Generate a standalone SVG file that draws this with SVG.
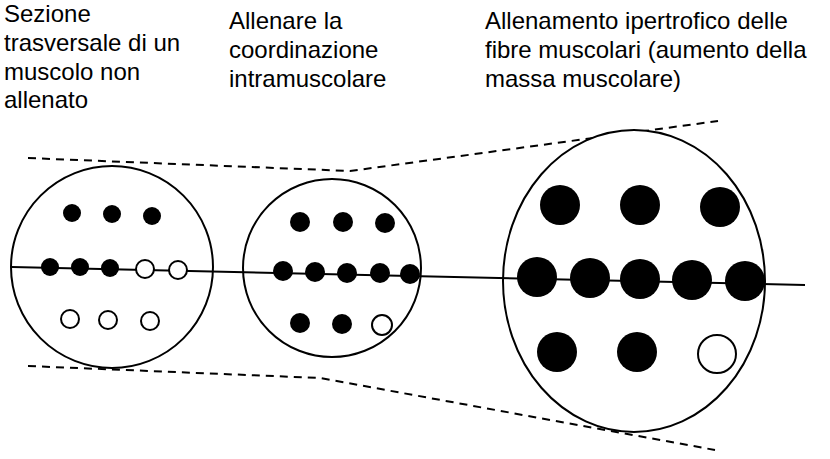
<svg xmlns="http://www.w3.org/2000/svg" width="830" height="459" viewBox="0 0 830 459">
<style>
text{font-family:"Liberation Sans",Arial,sans-serif;font-size:24px;fill:#000}
.c{fill:#fff;stroke:#000;stroke-width:2}
.f{fill:#000}
.h{fill:#fff;stroke:#000;stroke-width:2}
.d{stroke:#000;stroke-width:2;stroke-dasharray:8,6;fill:none}
</style>
<rect width="830" height="459" fill="#fff"/>
<g id="labels">
<text x="4" y="22">Sezione</text><text x="4" y="51">trasversale di un</text><text x="4" y="80">muscolo non</text><text x="4" y="108">allenato</text>
<text x="229" y="29">Allenare la</text><text x="229" y="58">coordinazione</text><text x="229" y="87">intramuscolare</text>
<text x="485" y="29">Allenamento ipertrofico delle</text><text x="485" y="58">fibre muscolari (aumento della</text><text x="485" y="87">massa muscolare)</text>
</g>
<g id="connectors">
<path class="d" d="M28 158 L350 171 L718 121"/>
<path class="d" d="M28 366 L320 378 L715 450"/>
</g>
<g id="c1"><circle class="c" cx="112" cy="267" r="101"/></g>
<g id="c2"><circle class="c" cx="332" cy="268" r="89"/></g>
<g id="c3"><ellipse class="c" cx="634" cy="281" rx="131" ry="151"/></g>
<line x1="12" y1="267" x2="805" y2="285" stroke="#000" stroke-width="2"/>
<g id="dots1">
<circle class="f" cx="72" cy="213" r="9"/><circle class="f" cx="112" cy="214" r="9"/><circle class="f" cx="152" cy="216" r="9"/>
<circle class="f" cx="50" cy="267" r="9"/><circle class="f" cx="80" cy="267" r="9"/><circle class="f" cx="110" cy="268" r="9"/><circle class="h" cx="145" cy="269" r="9"/><circle class="h" cx="178" cy="270" r="9"/>
<circle class="h" cx="70" cy="319" r="9"/><circle class="h" cx="108" cy="320" r="9"/><circle class="h" cx="150" cy="321" r="9"/>
</g>
<g id="dots2">
<circle class="f" cx="300" cy="222" r="10"/><circle class="f" cx="343" cy="222" r="10"/><circle class="f" cx="385" cy="223" r="10"/>
<circle class="f" cx="283" cy="271" r="10"/><circle class="f" cx="315" cy="272" r="10"/><circle class="f" cx="347" cy="273" r="10"/><circle class="f" cx="380" cy="273" r="10"/><circle class="f" cx="410" cy="274" r="10"/>
<circle class="f" cx="300" cy="323" r="10"/><circle class="f" cx="342" cy="324" r="10"/><circle class="h" cx="382" cy="325" r="10"/>
</g>
<g id="dots3">
<circle class="f" cx="560" cy="205" r="20"/><circle class="f" cx="640" cy="205" r="20"/><circle class="f" cx="720" cy="207" r="20"/>
<circle class="f" cx="537" cy="277" r="20"/><circle class="f" cx="590" cy="278" r="20"/><circle class="f" cx="640" cy="279" r="20"/><circle class="f" cx="692" cy="280" r="20"/><circle class="f" cx="745" cy="281" r="20"/>
<circle class="f" cx="557" cy="352" r="20"/><circle class="f" cx="637" cy="352" r="20"/><circle class="h" cx="717" cy="354" r="19"/>
</g>
</svg>
